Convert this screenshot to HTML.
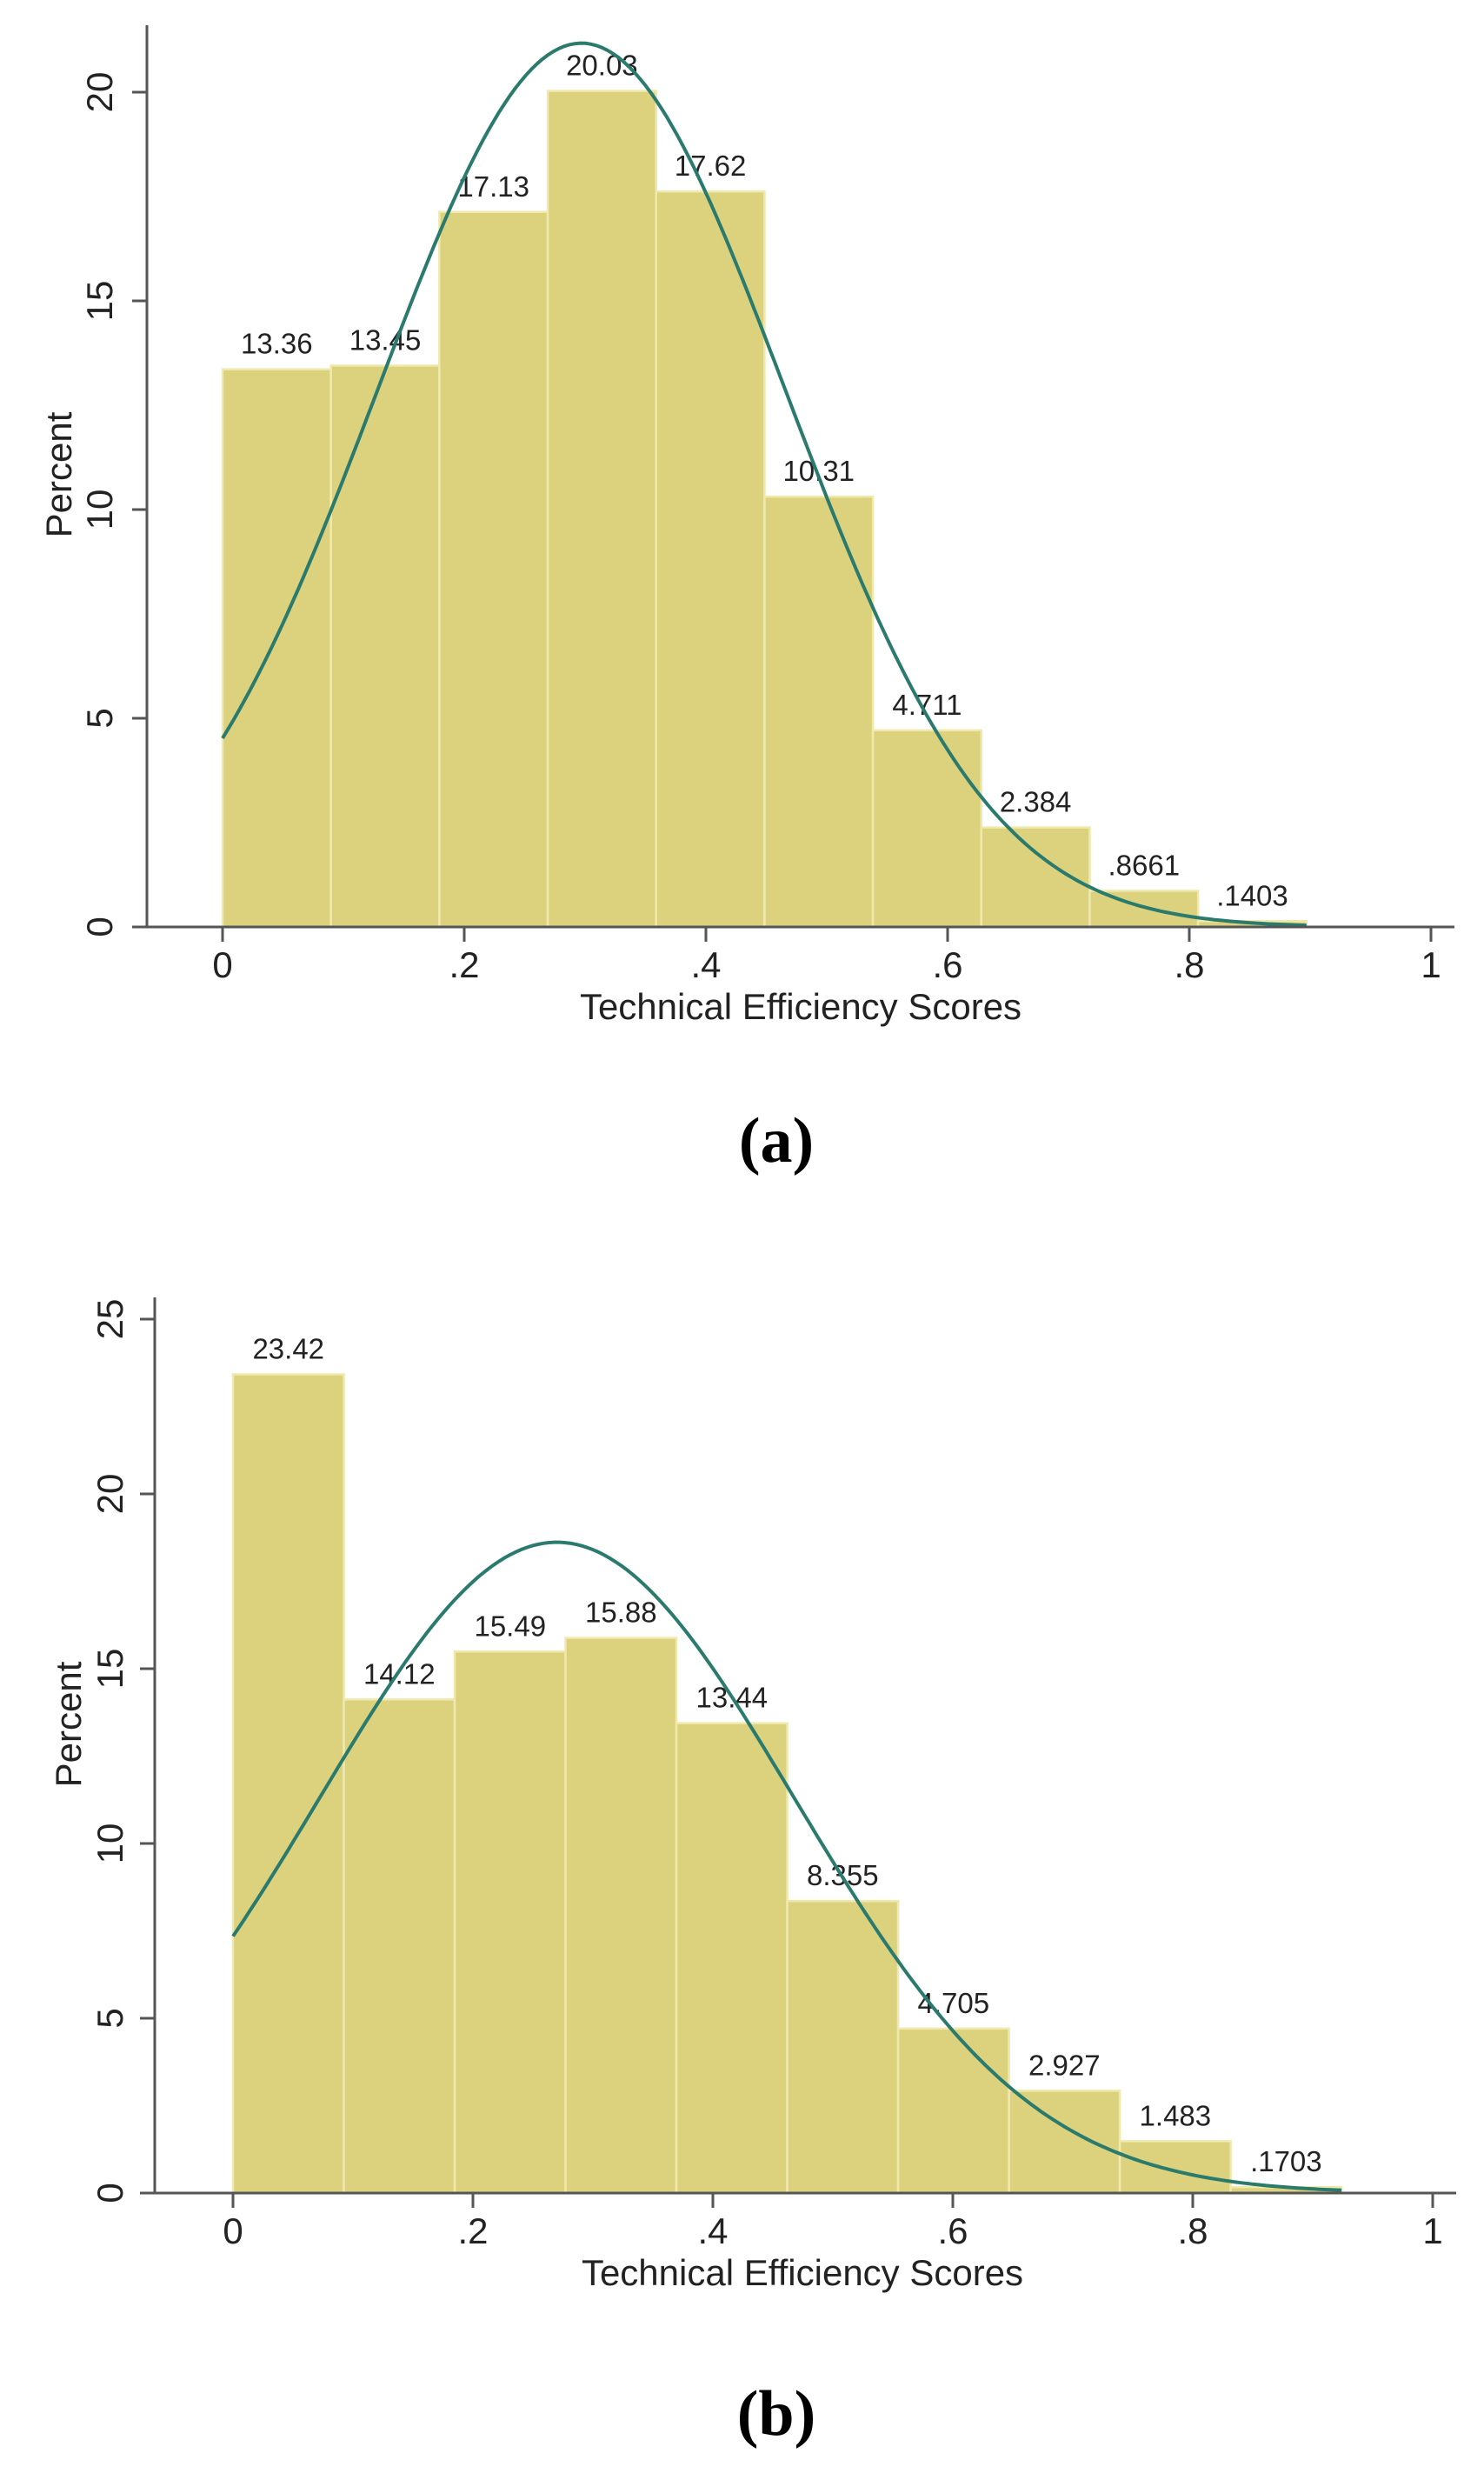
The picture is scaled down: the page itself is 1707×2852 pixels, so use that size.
<!DOCTYPE html>
<html><head><meta charset="utf-8">
<style>
html,body{margin:0;padding:0;background:#fff;}
svg{display:block;}
text{font-family:"Liberation Sans",Arial,sans-serif;fill:#222;}
.cap{font-family:"Liberation Serif","Times New Roman",serif;font-weight:bold;fill:#000;}
</style></head>
<body>
<svg id="fig" width="1707" height="2852" viewBox="0 0 1707 2852" xmlns="http://www.w3.org/2000/svg"></svg>
<script>
// Panel (a) data
const valuesA = [13.36, 13.45, 17.13, 20.03, 17.62, 10.31, 4.711, 2.384, 0.8661, 0.1403];
const labelsA = ["13.36","13.45","17.13","20.03","17.62","10.31","4.711","2.384",".8661",".1403"];
const binWidthA = [0.0897];
const normalA = [0.297, 0.169]; // mean, sd
const yTicksA = [0, 5, 10, 15, 20];
// Panel (b) data
const valuesB = [23.42, 14.12, 15.49, 15.88, 13.44, 8.355, 4.705, 2.927, 1.483, 0.1703];
const labelsB = ["23.42","14.12","15.49","15.88","13.44","8.355","4.705","2.927","1.483",".1703"];
const binWidthB = [0.0924];
const normalB = [0.27, 0.198];
const yTicksB = [0, 5, 10, 15, 20, 25];
const xTicks = [0, 0.2, 0.4, 0.6, 0.8, 1];
const xTickLabels = ["0", ".2", ".4", ".6", ".8", "1"];

const NS = "http://www.w3.org/2000/svg";
const svg = document.getElementById("fig");
function mk(tag, attrs, parent, txt){
  const e = document.createElementNS(NS, tag);
  for (const k in attrs) e.setAttribute(k, attrs[k]);
  if (txt !== undefined) e.textContent = txt;
  (parent || svg).appendChild(e);
  return e;
}

function panel(cfg){
  const g = mk("g", {});
  
  
  const X = v => cfg.x0 + v * (cfg.x1 - cfg.x0);
  const Y = v => cfg.y0 - v * cfg.pxPerUnit;
  const bw = cfg.bw[0];
  cfg.values.forEach((v, i) => {
    const r = mk("rect", {x: X(i*bw), y: Y(v), width: X((i+1)*bw) - X(i*bw), height: cfg.y0 - Y(v),
      fill: "#dcd27e", stroke: "#efe9ad", "stroke-width": 2.5}, g);
    
    
    const t = mk("text", {x: X((i+0.5)*bw), y: Y(v) - 18, "text-anchor": "middle", "font-size": 33}, g, cfg.labels[i]);
    
    
  });
  const mu = cfg.normal[0], sd = cfg.normal[1];
  const end = bw * cfg.values.length;
  let d = "";
  for (let k = 0; k <= 200; k++){
    const x = end * k / 200;
    const y = 100 * bw * Math.exp(-((x-mu)**2)/(2*sd*sd)) / (sd*Math.sqrt(2*Math.PI));
    d += (k ? "L" : "M") + X(x).toFixed(1) + "," + Y(y).toFixed(1);
  }
  const c = mk("path", {d: d, fill: "none", stroke: "#2b7a6e", "stroke-width": 4}, g);
  
  
  const ya = mk("line", {x1: cfg.ax, y1: cfg.axTop, x2: cfg.ax, y2: cfg.y0 + 1.5, stroke: "#555", "stroke-width": 3}, g);
  
  
  const xa = mk("line", {x1: cfg.ax - 15, y1: cfg.y0, x2: cfg.axRight, y2: cfg.y0, stroke: "#555", "stroke-width": 3}, g);
  
  
  cfg.yTicks.forEach(v => {
    mk("line", {x1: cfg.ax - 17, y1: Y(v), x2: cfg.ax, y2: Y(v), stroke: "#555", "stroke-width": 3}, g);
    const t = mk("text", {x: 0, y: 0, "text-anchor": "middle", "font-size": 42,
      transform: `translate(${cfg.yLabX},${Y(v)}) rotate(-90)`}, g, String(v));
    
    
  });
  xTicks.forEach((v, i) => {
    mk("line", {x1: X(v), y1: cfg.y0, x2: X(v), y2: cfg.y0 + 17, stroke: "#555", "stroke-width": 3}, g);
    const t = mk("text", {x: X(v), y: cfg.y0 + 58, "text-anchor": "middle", "font-size": 42}, g, xTickLabels[i]);
    
    
  });
  const xt = mk("text", {x: cfg.xTitleX, y: cfg.y0 + cfg.xTitleOff, "text-anchor": "middle", "font-size": 42}, g, "Technical Efficiency Scores");
  
  
  const yt = mk("text", {x: 0, y: 0, "text-anchor": "middle", "font-size": 42,
    transform: `translate(${cfg.pX},${cfg.pY}) rotate(-90)`}, g, "Percent");
  
  
  const cap = mk("text", {x: 893, y: cfg.capY, "text-anchor": "middle", "font-size": 74, class: "cap"}, g, cfg.cap);
  
  
}

panel({name: "histogram-panel-a", values: valuesA, labels: labelsA, bw: binWidthA, normal: normalA, yTicks: yTicksA,
  x0: 256, x1: 1646, y0: 1066, pxPerUnit: 48, ax: 169, axTop: 29, axRight: 1673,
  yLabX: 129, xTitleX: 921, xTitleOff: 106, pX: 82, pY: 546, capY: 1336, cap: "(a)"});
panel({name: "histogram-panel-b", values: valuesB, labels: labelsB, bw: binWidthB, normal: normalB, yTicks: yTicksB,
  x0: 268, x1: 1648, y0: 2522, pxPerUnit: 40.2, ax: 178, axTop: 1492, axRight: 1675,
  yLabX: 141, xTitleX: 923, xTitleOff: 106, pX: 93, pY: 1983, capY: 2800, cap: "(b)"});
</script>
</body></html>
